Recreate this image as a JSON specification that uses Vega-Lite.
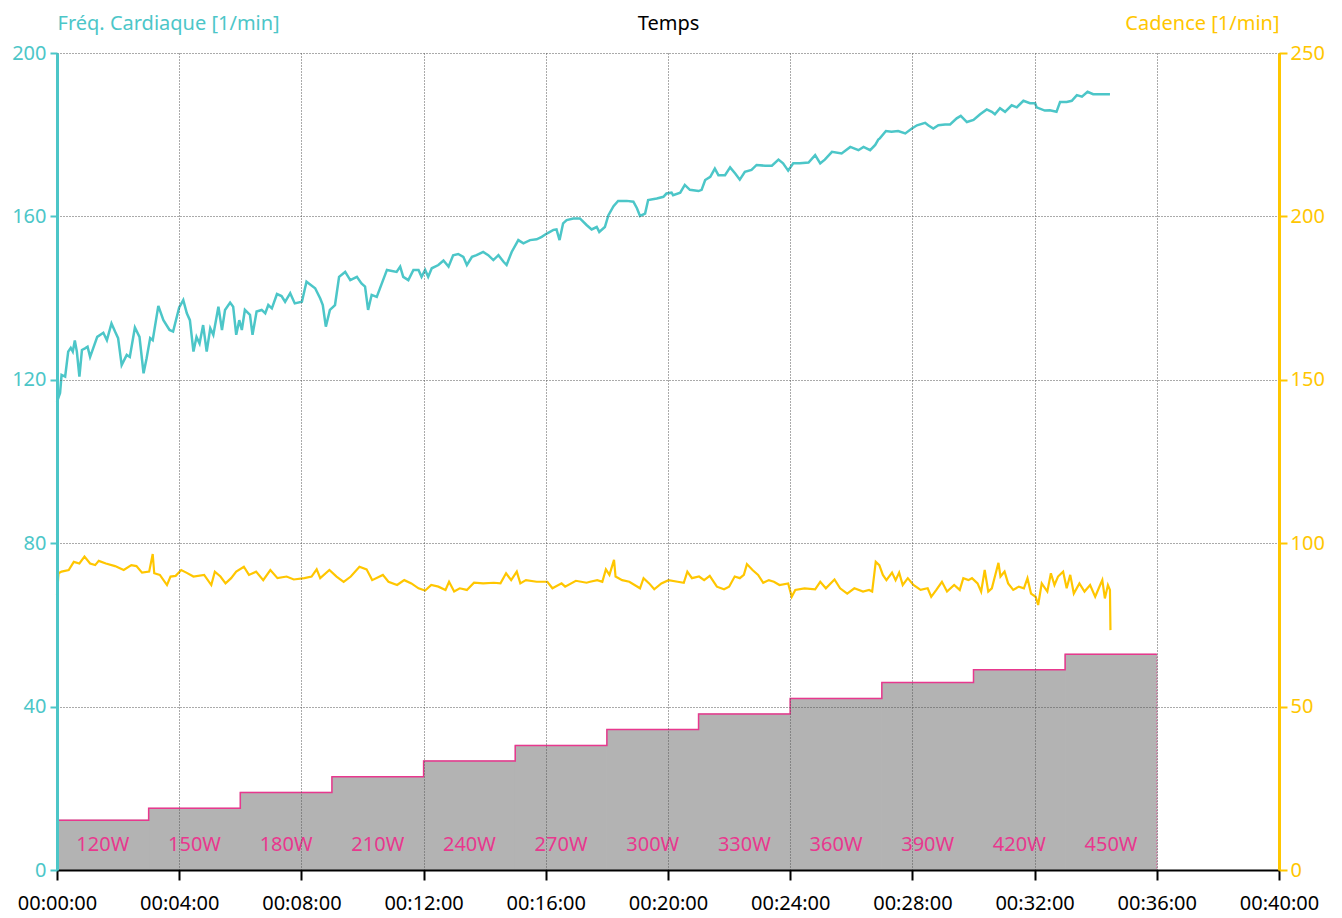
{
  "$schema": "https://vega.github.io/schema/vega-lite/v6.json",
  "width": 1222,
  "height": 817,
  "autosize": {"type": "none"},
  "padding": {"left": 57, "top": 53, "right": 63, "bottom": 48},
  "background": "white",
  "config": {"font": "Noto Sans", "view": {"stroke": null}},
  "datasets": {
    "paliers": [
      {"debut": 0, "fin": 180, "niveau": 12.2, "puissance": "120W", "milieu": 90},
      {"debut": 180, "fin": 360, "niveau": 15.1, "puissance": "150W", "milieu": 270},
      {"debut": 360, "fin": 540, "niveau": 19.0, "puissance": "180W", "milieu": 450},
      {"debut": 540, "fin": 720, "niveau": 22.8, "puissance": "210W", "milieu": 630},
      {"debut": 720, "fin": 900, "niveau": 26.7, "puissance": "240W", "milieu": 810},
      {"debut": 900, "fin": 1080, "niveau": 30.5, "puissance": "270W", "milieu": 990},
      {"debut": 1080, "fin": 1260, "niveau": 34.4, "puissance": "300W", "milieu": 1170},
      {"debut": 1260, "fin": 1440, "niveau": 38.2, "puissance": "330W", "milieu": 1350},
      {"debut": 1440, "fin": 1620, "niveau": 42.0, "puissance": "360W", "milieu": 1530},
      {"debut": 1620, "fin": 1800, "niveau": 45.9, "puissance": "390W", "milieu": 1710},
      {"debut": 1800, "fin": 1980, "niveau": 49.0, "puissance": "420W", "milieu": 1890},
      {"debut": 1980, "fin": 2160, "niveau": 52.8, "puissance": "450W", "milieu": 2070}
    ],
    "fc": [
      {"t":0,"fc":114.6},{"t":6,"fc":116.8},{"t":9,"fc":121.2},{"t":16,"fc":120.8},{"t":22,"fc":126.9},{"t":27,"fc":127.8},{"t":31,"fc":126.9},{"t":35,"fc":129.6},{"t":39,"fc":126.9},{"t":44,"fc":120.8},{"t":49,"fc":127.3},{"t":55,"fc":127.7},{"t":60,"fc":128.1},{"t":65,"fc":125.6},{"t":71,"fc":127.7},{"t":79,"fc":130.5},{"t":91,"fc":131.5},{"t":98,"fc":129.7},{"t":107,"fc":133.8},{"t":114,"fc":131.8},{"t":120,"fc":130.2},{"t":127,"fc":123.6},{"t":137,"fc":126.1},{"t":143,"fc":125.6},{"t":153,"fc":132.8},{"t":162,"fc":130.5},{"t":170,"fc":121.6},{"t":176,"fc":125.3},{"t":183,"fc":130.2},{"t":188,"fc":129.7},{"t":199,"fc":138.1},{"t":209,"fc":134.6},{"t":221,"fc":132.2},{"t":228,"fc":131.8},{"t":240,"fc":137.7},{"t":248,"fc":139.5},{"t":255,"fc":136.3},{"t":261,"fc":134.6},{"t":268,"fc":126.9},{"t":274,"fc":130.5},{"t":280,"fc":128.9},{"t":287,"fc":133.4},{"t":294,"fc":126.9},{"t":301,"fc":132.6},{"t":307,"fc":131.0},{"t":317,"fc":137.9},{"t":324,"fc":132.2},{"t":330,"fc":137.1},{"t":340,"fc":138.9},{"t":346,"fc":137.9},{"t":352,"fc":131.0},{"t":358,"fc":134.6},{"t":363,"fc":132.2},{"t":369,"fc":137.1},{"t":379,"fc":135.9},{"t":384,"fc":131.0},{"t":392,"fc":136.7},{"t":402,"fc":137.1},{"t":409,"fc":136.3},{"t":415,"fc":138.3},{"t":422,"fc":137.5},{"t":432,"fc":141.0},{"t":441,"fc":140.5},{"t":448,"fc":139.1},{"t":458,"fc":141.2},{"t":467,"fc":138.7},{"t":481,"fc":139.1},{"t":490,"fc":144.0},{"t":507,"fc":142.4},{"t":517,"fc":139.9},{"t":522,"fc":138.3},{"t":528,"fc":133.0},{"t":536,"fc":137.1},{"t":546,"fc":138.3},{"t":554,"fc":145.2},{"t":566,"fc":146.4},{"t":576,"fc":144.4},{"t":589,"fc":145.2},{"t":598,"fc":143.6},{"t":605,"fc":142.8},{"t":611,"fc":137.1},{"t":618,"fc":140.8},{"t":628,"fc":140.3},{"t":638,"fc":143.6},{"t":648,"fc":146.9},{"t":667,"fc":146.4},{"t":674,"fc":147.7},{"t":680,"fc":145.2},{"t":690,"fc":144.4},{"t":700,"fc":146.9},{"t":710,"fc":146.9},{"t":716,"fc":145.2},{"t":723,"fc":146.9},{"t":729,"fc":145.2},{"t":736,"fc":147.3},{"t":749,"fc":148.1},{"t":759,"fc":149.2},{"t":769,"fc":147.7},{"t":778,"fc":150.5},{"t":788,"fc":150.8},{"t":798,"fc":150.1},{"t":805,"fc":148.1},{"t":815,"fc":150.1},{"t":824,"fc":150.5},{"t":837,"fc":151.3},{"t":847,"fc":150.5},{"t":857,"fc":149.3},{"t":867,"fc":150.5},{"t":877,"fc":148.9},{"t":883,"fc":148.1},{"t":893,"fc":151.3},{"t":906,"fc":154.2},{"t":916,"fc":153.4},{"t":929,"fc":154.2},{"t":942,"fc":154.4},{"t":952,"fc":155.0},{"t":962,"fc":155.8},{"t":975,"fc":156.7},{"t":981,"fc":156.8},{"t":987,"fc":154.2},{"t":994,"fc":158.3},{"t":1001,"fc":159.1},{"t":1014,"fc":159.5},{"t":1027,"fc":159.5},{"t":1040,"fc":157.9},{"t":1050,"fc":156.8},{"t":1060,"fc":157.4},{"t":1065,"fc":156.2},{"t":1076,"fc":157.4},{"t":1083,"fc":160.3},{"t":1093,"fc":162.5},{"t":1102,"fc":163.8},{"t":1119,"fc":163.8},{"t":1132,"fc":163.6},{"t":1139,"fc":162.0},{"t":1145,"fc":160.1},{"t":1155,"fc":160.7},{"t":1161,"fc":164.0},{"t":1178,"fc":164.4},{"t":1191,"fc":164.8},{"t":1197,"fc":165.6},{"t":1207,"fc":165.8},{"t":1210,"fc":165.2},{"t":1224,"fc":165.8},{"t":1233,"fc":167.7},{"t":1243,"fc":166.5},{"t":1260,"fc":166.2},{"t":1266,"fc":166.5},{"t":1273,"fc":168.9},{"t":1283,"fc":169.7},{"t":1292,"fc":171.7},{"t":1299,"fc":170.1},{"t":1312,"fc":170.1},{"t":1322,"fc":172.0},{"t":1332,"fc":170.5},{"t":1341,"fc":169.0},{"t":1351,"fc":170.9},{"t":1364,"fc":171.4},{"t":1374,"fc":172.6},{"t":1391,"fc":172.4},{"t":1404,"fc":172.4},{"t":1417,"fc":173.9},{"t":1426,"fc":173.0},{"t":1436,"fc":171.2},{"t":1446,"fc":173.0},{"t":1459,"fc":173.0},{"t":1476,"fc":173.2},{"t":1489,"fc":175.0},{"t":1499,"fc":173.0},{"t":1508,"fc":173.9},{"t":1522,"fc":175.8},{"t":1541,"fc":175.4},{"t":1558,"fc":177.0},{"t":1574,"fc":176.2},{"t":1584,"fc":177.0},{"t":1597,"fc":176.2},{"t":1607,"fc":177.5},{"t":1613,"fc":178.8},{"t":1616,"fc":179.1},{"t":1628,"fc":180.9},{"t":1639,"fc":180.7},{"t":1652,"fc":180.9},{"t":1666,"fc":180.3},{"t":1679,"fc":181.5},{"t":1689,"fc":182.3},{"t":1705,"fc":182.9},{"t":1711,"fc":182.3},{"t":1721,"fc":181.5},{"t":1731,"fc":182.3},{"t":1744,"fc":182.5},{"t":1754,"fc":182.5},{"t":1767,"fc":184.0},{"t":1775,"fc":184.6},{"t":1787,"fc":183.1},{"t":1800,"fc":183.6},{"t":1813,"fc":185.0},{"t":1826,"fc":186.2},{"t":1836,"fc":185.6},{"t":1842,"fc":185.0},{"t":1852,"fc":186.5},{"t":1862,"fc":185.6},{"t":1875,"fc":187.2},{"t":1885,"fc":186.7},{"t":1898,"fc":188.3},{"t":1911,"fc":187.7},{"t":1921,"fc":187.7},{"t":1924,"fc":186.7},{"t":1940,"fc":185.9},{"t":1950,"fc":186.0},{"t":1963,"fc":185.6},{"t":1970,"fc":188.0},{"t":1983,"fc":188.0},{"t":1993,"fc":188.3},{"t":2003,"fc":189.7},{"t":2013,"fc":189.3},{"t":2024,"fc":190.5},{"t":2035,"fc":189.9},{"t":2068,"fc":189.9}
    ],
    "cadence": [
      {"t":0,"cad":84.1},{"t":3,"cad":90.8},{"t":9,"cad":91.3},{"t":23,"cad":91.8},{"t":33,"cad":94.3},{"t":44,"cad":93.8},{"t":54,"cad":95.9},{"t":65,"cad":93.8},{"t":75,"cad":93.3},{"t":82,"cad":94.6},{"t":96,"cad":93.8},{"t":114,"cad":93.0},{"t":131,"cad":91.8},{"t":146,"cad":93.3},{"t":156,"cad":93.0},{"t":167,"cad":91.0},{"t":181,"cad":91.3},{"t":188,"cad":96.7},{"t":191,"cad":90.8},{"t":202,"cad":90.3},{"t":216,"cad":87.2},{"t":223,"cad":89.8},{"t":233,"cad":90.0},{"t":244,"cad":91.8},{"t":254,"cad":91.0},{"t":268,"cad":89.8},{"t":289,"cad":90.3},{"t":303,"cad":87.2},{"t":310,"cad":91.3},{"t":321,"cad":89.8},{"t":331,"cad":87.7},{"t":342,"cad":89.3},{"t":352,"cad":91.3},{"t":367,"cad":92.8},{"t":377,"cad":90.3},{"t":391,"cad":91.3},{"t":405,"cad":88.7},{"t":419,"cad":91.8},{"t":433,"cad":89.3},{"t":451,"cad":89.8},{"t":465,"cad":88.9},{"t":486,"cad":89.3},{"t":500,"cad":89.8},{"t":510,"cad":92.0},{"t":517,"cad":89.3},{"t":535,"cad":91.8},{"t":549,"cad":89.8},{"t":563,"cad":88.2},{"t":577,"cad":89.8},{"t":594,"cad":92.8},{"t":608,"cad":92.0},{"t":619,"cad":88.7},{"t":640,"cad":90.3},{"t":651,"cad":88.2},{"t":668,"cad":87.2},{"t":682,"cad":88.7},{"t":696,"cad":87.7},{"t":710,"cad":86.2},{"t":723,"cad":85.5},{"t":735,"cad":87.2},{"t":749,"cad":86.7},{"t":763,"cad":85.7},{"t":770,"cad":88.2},{"t":780,"cad":85.2},{"t":791,"cad":86.2},{"t":805,"cad":85.7},{"t":819,"cad":87.9},{"t":837,"cad":87.7},{"t":858,"cad":87.9},{"t":871,"cad":87.7},{"t":882,"cad":90.8},{"t":892,"cad":88.7},{"t":903,"cad":91.3},{"t":910,"cad":87.7},{"t":921,"cad":88.7},{"t":942,"cad":88.2},{"t":963,"cad":88.2},{"t":973,"cad":86.2},{"t":991,"cad":87.7},{"t":998,"cad":86.7},{"t":1019,"cad":88.5},{"t":1040,"cad":87.9},{"t":1047,"cad":88.2},{"t":1061,"cad":88.7},{"t":1071,"cad":88.2},{"t":1078,"cad":92.0},{"t":1085,"cad":90.3},{"t":1094,"cad":94.9},{"t":1097,"cad":89.8},{"t":1110,"cad":88.7},{"t":1124,"cad":88.2},{"t":1145,"cad":86.2},{"t":1152,"cad":89.3},{"t":1163,"cad":87.7},{"t":1173,"cad":85.9},{"t":1187,"cad":87.7},{"t":1201,"cad":88.7},{"t":1219,"cad":88.2},{"t":1231,"cad":87.9},{"t":1238,"cad":91.3},{"t":1247,"cad":89.3},{"t":1261,"cad":89.8},{"t":1271,"cad":88.7},{"t":1282,"cad":90.0},{"t":1296,"cad":86.7},{"t":1310,"cad":85.9},{"t":1320,"cad":86.7},{"t":1331,"cad":89.8},{"t":1341,"cad":89.3},{"t":1349,"cad":90.3},{"t":1355,"cad":93.6},{"t":1366,"cad":91.8},{"t":1377,"cad":90.3},{"t":1387,"cad":87.9},{"t":1398,"cad":88.7},{"t":1408,"cad":88.2},{"t":1419,"cad":87.2},{"t":1436,"cad":87.7},{"t":1443,"cad":83.6},{"t":1450,"cad":85.7},{"t":1468,"cad":86.2},{"t":1489,"cad":85.9},{"t":1499,"cad":88.2},{"t":1510,"cad":86.2},{"t":1527,"cad":88.9},{"t":1538,"cad":86.2},{"t":1552,"cad":84.6},{"t":1566,"cad":86.2},{"t":1583,"cad":85.2},{"t":1595,"cad":85.7},{"t":1601,"cad":85.2},{"t":1608,"cad":94.3},{"t":1615,"cad":93.3},{"t":1622,"cad":90.3},{"t":1629,"cad":88.7},{"t":1640,"cad":91.0},{"t":1647,"cad":88.7},{"t":1654,"cad":91.0},{"t":1661,"cad":87.2},{"t":1671,"cad":89.3},{"t":1682,"cad":87.2},{"t":1696,"cad":85.7},{"t":1710,"cad":86.2},{"t":1717,"cad":83.6},{"t":1727,"cad":85.7},{"t":1738,"cad":88.2},{"t":1748,"cad":85.2},{"t":1762,"cad":87.2},{"t":1773,"cad":85.7},{"t":1780,"cad":89.3},{"t":1790,"cad":88.7},{"t":1797,"cad":89.3},{"t":1808,"cad":87.7},{"t":1815,"cad":85.2},{"t":1822,"cad":91.8},{"t":1829,"cad":85.2},{"t":1836,"cad":86.2},{"t":1849,"cad":94.0},{"t":1853,"cad":89.8},{"t":1861,"cad":91.3},{"t":1868,"cad":87.7},{"t":1878,"cad":85.7},{"t":1889,"cad":86.7},{"t":1899,"cad":86.2},{"t":1906,"cad":89.3},{"t":1913,"cad":84.6},{"t":1922,"cad":83.6},{"t":1927,"cad":81.1},{"t":1934,"cad":87.7},{"t":1945,"cad":85.2},{"t":1952,"cad":90.8},{"t":1959,"cad":87.2},{"t":1966,"cad":89.8},{"t":1976,"cad":91.3},{"t":1983,"cad":86.2},{"t":1990,"cad":90.3},{"t":1997,"cad":84.6},{"t":2008,"cad":87.7},{"t":2018,"cad":85.2},{"t":2029,"cad":87.2},{"t":2039,"cad":83.6},{"t":2046,"cad":86.2},{"t":2053,"cad":88.7},{"t":2058,"cad":83.1},{"t":2064,"cad":87.2},{"t":2068,"cad":85.7},{"t":2069,"cad":73.4}
    ]
  },
  "layer": [
    {
      "layer": [
        {
          "data": {"name": "paliers"},
          "mark": {"type": "rect", "color": "#b3b3b3", "stroke": "#b3b3b3", "strokeWidth": 1},
          "encoding": {
            "x": {"field": "debut", "type": "quantitative", "scale": {"domain": [0, 2400], "nice": false, "zero": false},
              "axis": {"values": [0, 240, 480, 720, 960, 1200, 1440, 1680, 1920, 2160, 2400], "labelExpr": "utcFormat(datum.value * 1000, '%H:%M:%S')", "title": "Temps", "titleX": 611, "titleY": -841, "titleAlign": "center", "titleBaseline": "alphabetic", "titleColor": "#000000", "titleFontSize": 20, "titleFontWeight": "normal", "grid": true, "gridColor": "#555555", "gridDash": [1, 2], "gridWidth": 1, "domainColor": "#000000", "domainWidth": 2, "tickColor": "#000000", "tickWidth": 2, "tickSize": 10, "labelFontSize": 20, "labelColor": "#000000", "labelPadding": 13, "labelFlush": false, "labelOverlap": false, "zindex": 1}},
            "x2": {"field": "fin"},
            "y": {"field": "niveau", "type": "quantitative", "scale": {"domain": [0, 200], "nice": false},
              "axis": {"values": [0, 40, 80, 120, 160, 200], "title": "Fréq. Cardiaque [1/min]", "titleAngle": 0, "titleX": 0, "titleY": -24, "titleAlign": "left", "titleBaseline": "alphabetic", "titleColor": "#4cc6c8", "titleFontSize": 20, "titleFontWeight": "normal", "labelColor": "#4cc6c8", "labelFontSize": 20, "labelPadding": 4, "domainColor": "#4cc6c8", "domainWidth": 3, "tickColor": "#4cc6c8", "tickSize": 7, "tickWidth": 2, "grid": true, "gridColor": "#555555", "gridDash": [1, 2], "gridWidth": 1, "zindex": 1}},
            "y2": {"datum": 0}
          }
        },
        {
          "data": {"name": "paliers"},
          "transform": [{"fold": ["debut", "fin"], "as": ["bord", "tb"]}],
          "mark": {"type": "line", "color": "#e8388e", "strokeWidth": 1.5},
          "encoding": {
            "x": {"field": "tb", "type": "quantitative", "scale": {"domain": [0, 2400], "nice": false, "zero": false},
              "axis": {"values": [0, 240, 480, 720, 960, 1200, 1440, 1680, 1920, 2160, 2400], "labelExpr": "utcFormat(datum.value * 1000, '%H:%M:%S')", "title": "Temps", "titleX": 611, "titleY": -841, "titleAlign": "center", "titleBaseline": "alphabetic", "titleColor": "#000000", "titleFontSize": 20, "titleFontWeight": "normal", "grid": true, "gridColor": "#555555", "gridDash": [1, 2], "gridWidth": 1, "domainColor": "#000000", "domainWidth": 2, "tickColor": "#000000", "tickWidth": 2, "tickSize": 10, "labelFontSize": 20, "labelColor": "#000000", "labelPadding": 13, "labelFlush": false, "labelOverlap": false, "zindex": 1}},
            "y": {"field": "niveau", "type": "quantitative", "scale": {"domain": [0, 200], "nice": false},
              "axis": {"values": [0, 40, 80, 120, 160, 200], "title": "Fréq. Cardiaque [1/min]", "titleAngle": 0, "titleX": 0, "titleY": -24, "titleAlign": "left", "titleBaseline": "alphabetic", "titleColor": "#4cc6c8", "titleFontSize": 20, "titleFontWeight": "normal", "labelColor": "#4cc6c8", "labelFontSize": 20, "labelPadding": 4, "domainColor": "#4cc6c8", "domainWidth": 3, "tickColor": "#4cc6c8", "tickSize": 7, "tickWidth": 2, "grid": true, "gridColor": "#555555", "gridDash": [1, 2], "gridWidth": 1, "zindex": 1}},
            "order": [{"field": "tb", "type": "quantitative"}, {"field": "niveau", "type": "quantitative"}]
          }
        },
        {
          "data": {"name": "paliers"},
          "transform": [{"filter": "datum.puissance == '450W'"}],
          "mark": {"type": "rule", "color": "#e8388e", "strokeWidth": 1, "strokeDash": [1, 2]},
          "encoding": {
            "x": {"field": "fin", "type": "quantitative", "scale": {"domain": [0, 2400], "nice": false, "zero": false},
              "axis": {"values": [0, 240, 480, 720, 960, 1200, 1440, 1680, 1920, 2160, 2400], "labelExpr": "utcFormat(datum.value * 1000, '%H:%M:%S')", "title": "Temps", "titleX": 611, "titleY": -841, "titleAlign": "center", "titleBaseline": "alphabetic", "titleColor": "#000000", "titleFontSize": 20, "titleFontWeight": "normal", "grid": true, "gridColor": "#555555", "gridDash": [1, 2], "gridWidth": 1, "domainColor": "#000000", "domainWidth": 2, "tickColor": "#000000", "tickWidth": 2, "tickSize": 10, "labelFontSize": 20, "labelColor": "#000000", "labelPadding": 13, "labelFlush": false, "labelOverlap": false, "zindex": 1}},
            "y": {"field": "niveau", "type": "quantitative", "scale": {"domain": [0, 200], "nice": false},
              "axis": {"values": [0, 40, 80, 120, 160, 200], "title": "Fréq. Cardiaque [1/min]", "titleAngle": 0, "titleX": 0, "titleY": -24, "titleAlign": "left", "titleBaseline": "alphabetic", "titleColor": "#4cc6c8", "titleFontSize": 20, "titleFontWeight": "normal", "labelColor": "#4cc6c8", "labelFontSize": 20, "labelPadding": 4, "domainColor": "#4cc6c8", "domainWidth": 3, "tickColor": "#4cc6c8", "tickSize": 7, "tickWidth": 2, "grid": true, "gridColor": "#555555", "gridDash": [1, 2], "gridWidth": 1, "zindex": 1}},
            "y2": {"datum": 0}
          }
        },
        {
          "data": {"name": "paliers"},
          "mark": {"type": "text", "color": "#e8388e", "fontSize": 20, "baseline": "middle", "align": "center"},
          "encoding": {
            "x": {"field": "milieu", "type": "quantitative", "scale": {"domain": [0, 2400], "nice": false, "zero": false},
              "axis": {"values": [0, 240, 480, 720, 960, 1200, 1440, 1680, 1920, 2160, 2400], "labelExpr": "utcFormat(datum.value * 1000, '%H:%M:%S')", "title": "Temps", "titleX": 611, "titleY": -841, "titleAlign": "center", "titleBaseline": "alphabetic", "titleColor": "#000000", "titleFontSize": 20, "titleFontWeight": "normal", "grid": true, "gridColor": "#555555", "gridDash": [1, 2], "gridWidth": 1, "domainColor": "#000000", "domainWidth": 2, "tickColor": "#000000", "tickWidth": 2, "tickSize": 10, "labelFontSize": 20, "labelColor": "#000000", "labelPadding": 13, "labelFlush": false, "labelOverlap": false, "zindex": 1}},
            "y": {"datum": 6, "type": "quantitative", "scale": {"domain": [0, 200], "nice": false},
              "axis": {"values": [0, 40, 80, 120, 160, 200], "title": "Fréq. Cardiaque [1/min]", "titleAngle": 0, "titleX": 0, "titleY": -24, "titleAlign": "left", "titleBaseline": "alphabetic", "titleColor": "#4cc6c8", "titleFontSize": 20, "titleFontWeight": "normal", "labelColor": "#4cc6c8", "labelFontSize": 20, "labelPadding": 4, "domainColor": "#4cc6c8", "domainWidth": 3, "tickColor": "#4cc6c8", "tickSize": 7, "tickWidth": 2, "grid": true, "gridColor": "#555555", "gridDash": [1, 2], "gridWidth": 1, "zindex": 1}},
            "text": {"field": "puissance"}
          }
        },
        {
          "data": {"name": "fc"},
          "mark": {"type": "line", "color": "#4cc6c8", "strokeWidth": 2.5},
          "encoding": {
            "x": {"field": "t", "type": "quantitative", "scale": {"domain": [0, 2400], "nice": false, "zero": false},
              "axis": {"values": [0, 240, 480, 720, 960, 1200, 1440, 1680, 1920, 2160, 2400], "labelExpr": "utcFormat(datum.value * 1000, '%H:%M:%S')", "title": "Temps", "titleX": 611, "titleY": -841, "titleAlign": "center", "titleBaseline": "alphabetic", "titleColor": "#000000", "titleFontSize": 20, "titleFontWeight": "normal", "grid": true, "gridColor": "#555555", "gridDash": [1, 2], "gridWidth": 1, "domainColor": "#000000", "domainWidth": 2, "tickColor": "#000000", "tickWidth": 2, "tickSize": 10, "labelFontSize": 20, "labelColor": "#000000", "labelPadding": 13, "labelFlush": false, "labelOverlap": false, "zindex": 1}},
            "y": {"field": "fc", "type": "quantitative", "scale": {"domain": [0, 200], "nice": false},
              "axis": {"values": [0, 40, 80, 120, 160, 200], "title": "Fréq. Cardiaque [1/min]", "titleAngle": 0, "titleX": 0, "titleY": -24, "titleAlign": "left", "titleBaseline": "alphabetic", "titleColor": "#4cc6c8", "titleFontSize": 20, "titleFontWeight": "normal", "labelColor": "#4cc6c8", "labelFontSize": 20, "labelPadding": 4, "domainColor": "#4cc6c8", "domainWidth": 3, "tickColor": "#4cc6c8", "tickSize": 7, "tickWidth": 2, "grid": true, "gridColor": "#555555", "gridDash": [1, 2], "gridWidth": 1, "zindex": 1}}
          }
        }
      ]
    },
    {
      "data": {"name": "cadence"},
      "mark": {"type": "line", "color": "#ffc600", "strokeWidth": 2.2},
      "encoding": {
        "x": {"field": "t", "type": "quantitative", "scale": {"domain": [0, 2400], "nice": false, "zero": false},
          "axis": {"values": [0, 240, 480, 720, 960, 1200, 1440, 1680, 1920, 2160, 2400], "labelExpr": "utcFormat(datum.value * 1000, '%H:%M:%S')", "title": "Temps", "titleX": 611, "titleY": -841, "titleAlign": "center", "titleBaseline": "alphabetic", "titleColor": "#000000", "titleFontSize": 20, "titleFontWeight": "normal", "grid": true, "gridColor": "#555555", "gridDash": [1, 2], "gridWidth": 1, "domainColor": "#000000", "domainWidth": 2, "tickColor": "#000000", "tickWidth": 2, "tickSize": 10, "labelFontSize": 20, "labelColor": "#000000", "labelPadding": 13, "labelFlush": false, "labelOverlap": false, "zindex": 1}},
        "y": {"field": "cad", "type": "quantitative", "scale": {"domain": [0, 250], "nice": false},
          "axis": {"orient": "right", "values": [0, 50, 100, 150, 200, 250], "title": "Cadence [1/min]", "titleAngle": 0, "titleX": 0, "titleY": -24, "titleAlign": "right", "titleBaseline": "alphabetic", "titleColor": "#ffc600", "titleFontSize": 20, "titleFontWeight": "normal", "labelColor": "#ffc600", "labelFontSize": 20, "labelPadding": 3, "domainColor": "#ffc600", "domainWidth": 3, "tickColor": "#ffc600", "tickSize": 8, "tickWidth": 2, "grid": false, "zindex": 1}}
      }
    }
  ],
  "resolve": {"scale": {"y": "independent"}}
}
